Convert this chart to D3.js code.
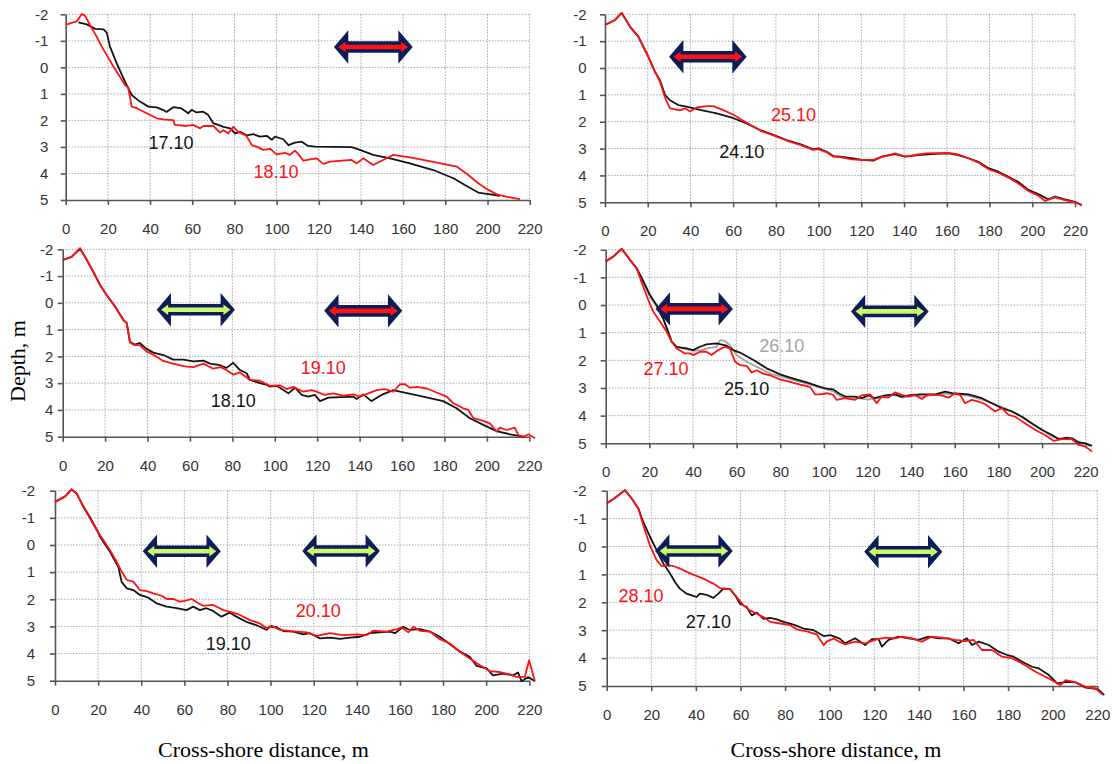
<!DOCTYPE html>
<html>
<head>
<meta charset="utf-8">
<script src="https://cdn.jsdelivr.net/npm/d3@7"></script>
<style>
  html, body { margin: 0; padding: 0; background: #ffffff; }
  svg { display: block; }
  .tick text { font-family: "Liberation Sans", Arial, sans-serif; font-size: 15px; fill: #333; }
</style>
</head>
<body>
<svg id="chart" width="1115" height="764"></svg>
<script>
// Cross-shore beach profiles: depth (m) vs distance (m), pairs of survey dates per panel.
const xTicks = [0, 20, 40, 60, 80, 100, 120, 140, 160, 180, 200, 220];
const yTicks = [-2, -1, 0, 1, 2, 3, 4, 5];

// Panel 1: 17.10 and 18.10
const p1_1710 = [[6,-1.70],[10,-1.62],[14,-1.45],[18,-1.43],[19.5,-1.3],[21,-0.78],[24.2,-0.15],[28.1,0.54],[31.3,1.04],[35.2,1.29],[39.2,1.48],[43.1,1.51],[46.3,1.61],[47.8,1.68],[51,1.5],[54.9,1.55],[58.1,1.73],[59.7,1.6],[62,1.7],[65.2,1.67],[67.6,1.8],[70,2.11],[72.4,2.17],[74.8,2.24],[78,2.3],[80.3,2.49],[82.6,2.43],[85.8,2.56],[89,2.52],[92.1,2.61],[95.3,2.58],[97.7,2.73],[99.2,2.61],[103.2,2.71],[105.6,2.93],[108.7,2.84],[111.9,2.80],[115,2.96],[118.2,2.99],[135.6,3.01],[139.5,3.11],[145.8,3.30],[153.8,3.43],[163.2,3.62],[174.3,3.87],[183.8,4.18],[190.1,4.47],[195.6,4.72],[199.6,4.77],[205.9,4.84]];
const p1_1810 = [[0,-1.60],[2.8,-1.68],[5.2,-1.73],[7.6,-2.01],[9.2,-1.94],[11.5,-1.6],[14.7,-1.16],[17.1,-0.78],[19.4,-0.47],[22.6,-0.03],[25.7,0.35],[28.1,0.67],[29.6,0.75],[31.3,1.48],[33.7,1.54],[38.4,1.73],[43.1,1.92],[46.3,1.96],[51,1.99],[51.8,2.17],[57.3,2.21],[60.5,2.17],[63.7,2.30],[65.2,2.21],[70,2.21],[73.2,2.46],[74.8,2.37],[77.1,2.49],[79.5,2.24],[81.8,2.43],[85.8,2.59],[88.2,2.93],[90.5,2.99],[93.7,3.11],[96.9,3.07],[100,3.28],[104,3.22],[106.3,3.30],[108.7,3.14],[110.3,3.27],[112.7,3.52],[115.9,3.47],[119,3.43],[122.2,3.64],[125.3,3.55],[135.6,3.49],[138,3.62],[141.1,3.43],[145.8,3.68],[149.8,3.52],[155.3,3.30],[163.2,3.39],[174.3,3.56],[185.4,3.74],[190.9,4.06],[195.6,4.37],[200.4,4.62],[205.1,4.81],[210.7,4.90],[215.4,4.97]];

// Panel 2: 24.10 and 25.10
const p2_2410 = [[0,-1.60],[4.7,-1.79],[7.8,-2.05],[11.7,-1.54],[15.6,-1.17],[19.5,-0.55],[23.4,0.14],[25.7,0.45],[28.1,1.0],[30.4,1.2],[34.3,1.38],[38.2,1.44],[44.5,1.56],[52.3,1.69],[60.1,1.87],[66.3,2.06],[72.6,2.31],[78.8,2.49],[85,2.68],[91.3,2.83],[97.5,3.03],[99.9,2.99],[103.8,3.12],[106.9,3.28],[110,3.30],[115.5,3.36],[120.2,3.42],[125.6,3.45],[129.5,3.30],[135.8,3.21],[140.5,3.30],[146.7,3.24],[154.5,3.20],[160.7,3.18],[165.4,3.24],[170.1,3.36],[174.8,3.49],[179.5,3.73],[184.2,3.86],[188.8,4.05],[193.5,4.24],[198.2,4.54],[202.8,4.69],[207.5,4.89],[210.6,4.79],[215.3,4.89],[220,4.98],[223.2,5.10]];
const p2_2510 = [[0,-1.60],[4.7,-1.79],[7.8,-2.05],[11.7,-1.54],[15.6,-1.17],[19.5,-0.55],[23.4,0.14],[25.7,0.5],[28.1,1.1],[30.4,1.50],[35.1,1.58],[37.5,1.5],[39.8,1.62],[42.9,1.47],[47.6,1.42],[50.7,1.42],[55.4,1.57],[60.1,1.74],[66.3,2.04],[72.6,2.33],[78.8,2.51],[85,2.70],[91.3,2.86],[97.5,3.05],[100,3.02],[103.8,3.14],[106.9,3.30],[110,3.32],[115.5,3.40],[120.2,3.42],[125.6,3.42],[129.5,3.32],[135.8,3.18],[140.5,3.30],[146.7,3.22],[150.5,3.18],[154.5,3.17],[160.7,3.16],[165.4,3.22],[170.1,3.36],[174.8,3.52],[179.5,3.77],[184.2,3.90],[188.8,4.08],[193.5,4.30],[198.2,4.58],[202.8,4.75],[206,4.95],[210.6,4.82],[215.3,4.92],[220,5.0],[223.2,5.12]];

// Panel 3: 18.10 and 19.10
const p3_1810 = [[0,-1.60],[4.2,-1.72],[8.2,-2.02],[11.4,-1.6],[14.4,-1.16],[17.6,-0.67],[20.7,-0.29],[24.7,0.14],[28.6,0.64],[30.2,0.76],[31.7,1.45],[33.9,1.56],[36.3,1.50],[39.6,1.72],[42.7,1.86],[47.5,1.95],[52.1,2.12],[56.9,2.12],[61.6,2.19],[66.3,2.16],[69.5,2.27],[74.2,2.33],[77.3,2.43],[80.4,2.24],[83.6,2.51],[86.7,2.63],[88.3,2.88],[93,3.00],[96.2,3.06],[97.7,3.13],[100.9,3.10],[104,3.26],[106.4,3.38],[109.5,3.17],[112.7,3.44],[115.8,3.50],[119,3.44],[121.3,3.67],[125.3,3.54],[137,3.50],[138.6,3.59],[141.7,3.42],[145.6,3.67],[150.3,3.44],[155.9,3.26],[159,3.32],[170,3.50],[179.4,3.67],[185.7,3.94],[192,4.31],[198.3,4.56],[204.6,4.79],[210.9,4.91],[217.2,5.0]];
const p3_1910 = [[0,-1.60],[4.2,-1.72],[8.2,-2.04],[11.4,-1.6],[14.4,-1.16],[17.6,-0.67],[20.7,-0.29],[24.7,0.14],[28.6,0.64],[30.2,0.76],[31.7,1.48],[33.9,1.58],[36.3,1.58],[39.6,1.82],[43,1.95],[47.4,2.17],[52.1,2.27],[56.9,2.36],[61.6,2.40],[66.3,2.27],[71,2.46],[74.5,2.40],[77.3,2.52],[80.4,2.68],[83.6,2.60],[88.3,2.88],[93,2.91],[97.7,3.10],[102.4,3.08],[105.6,3.22],[108.7,3.14],[113.4,3.32],[117.3,3.26],[119.7,3.32],[123.6,3.44],[127.6,3.38],[132.3,3.47],[137,3.42],[140.2,3.50],[144.1,3.38],[148,3.26],[151.9,3.22],[155.9,3.32],[159,3.04],[161.4,3.04],[163.7,3.17],[166.9,3.14],[171.6,3.20],[176.3,3.35],[181,3.50],[184.2,3.75],[188.9,3.94],[191.3,4.00],[193.6,4.31],[198.3,4.41],[201.4,4.50],[204.6,4.81],[206.1,4.66],[209.3,4.75],[213.2,4.66],[214.8,4.94],[217.2,5.0],[219.6,4.91],[222.7,5.06]];

// Panel 4: 25.10, 26.10 and 27.10
const p4_2510 = [[0,-1.57],[3.5,-1.75],[7.3,-2.03],[11.2,-1.63],[14.2,-1.33],[17.3,-0.85],[20.3,-0.36],[23.3,0.0],[26.3,0.48],[28.6,0.96],[30.2,1.32],[32.5,1.51],[37.1,1.57],[40.1,1.63],[43.2,1.51],[46.2,1.42],[50.8,1.39],[55.4,1.47],[58.5,1.63],[61.5,1.72],[67.7,1.99],[73.8,2.29],[79.9,2.51],[86,2.66],[92.1,2.80],[98.2,2.96],[101.3,3.02],[104.3,3.05],[107,3.20],[109.7,3.31],[114.3,3.31],[117.3,3.37],[120.4,3.27],[123.4,3.37],[128,3.27],[132.6,3.23],[135.7,3.31],[140.3,3.25],[144.9,3.23],[151,3.23],[155.6,3.13],[158.7,3.19],[166.3,3.23],[172.4,3.37],[177,3.55],[181.6,3.73],[186.2,3.85],[190.8,4.04],[195.4,4.28],[200,4.52],[204.6,4.70],[207.7,4.85],[210.7,4.80],[213.8,4.82],[216.8,4.97],[219.9,5.0],[222.9,5.09]];
const p4_2610 = [[0,-1.57],[3.5,-1.75],[7.3,-2.03],[11.2,-1.63],[14.2,-1.30],[17.3,-0.80],[20.3,-0.30],[23.3,0.05],[26.3,0.50],[28.6,0.98],[30.2,1.30],[32.5,1.52],[37.1,1.60],[40.1,1.66],[44,1.63],[47.5,1.55],[50.8,1.51],[52.4,1.27],[54.6,1.30],[56.9,1.45],[60,1.81],[64.6,2.05],[70.7,2.29],[76,2.50],[82,2.62],[88,2.75],[94,2.88],[100,3.02],[104.3,3.12],[108,3.32],[112,3.40],[116,3.37],[120,3.42],[124,3.35],[128,3.33],[132,3.25],[136,3.35],[140,3.28],[145,3.30],[150,3.26],[155,3.20],[160,3.22],[166,3.28],[172,3.40],[177,3.55],[182,3.70],[187,3.88],[191,4.06],[196,4.32],[200,4.50],[205,4.78],[209,4.84],[214,4.86],[218,4.99],[222,5.1]];
const p4_2710 = [[0,-1.57],[3.5,-1.75],[7.3,-2.03],[11.2,-1.63],[14.2,-1.33],[16.5,-0.81],[19.5,-0.19],[21.8,0.24],[24.9,0.60],[27.9,0.96],[30.2,1.32],[32.5,1.57],[36.3,1.75],[38.6,1.75],[40.1,1.81],[43.2,1.69],[46.2,1.69],[48.5,1.81],[51.6,1.63],[54.6,1.51],[56.9,1.57],[59.3,2.05],[61.5,2.17],[64.6,2.20],[66.9,2.44],[69.2,2.36],[72.2,2.48],[75.3,2.54],[79.9,2.69],[84.5,2.78],[89.1,2.88],[93.7,2.96],[95.9,3.23],[98.2,3.23],[101.3,3.19],[104.3,3.25],[105.8,3.43],[109.7,3.37],[114.3,3.43],[117.3,3.27],[121.2,3.23],[124.2,3.55],[126.5,3.31],[129.6,3.35],[132.6,3.16],[135.7,3.25],[138.7,3.31],[141.8,3.25],[144.9,3.40],[147.9,3.23],[151,3.25],[154,3.27],[157.1,3.35],[160.1,3.19],[162.4,3.25],[164.7,3.55],[167.8,3.43],[170.8,3.49],[173.9,3.58],[178.5,3.85],[181.6,3.73],[184.6,3.97],[187.7,4.04],[192.3,4.28],[196.9,4.52],[201.4,4.70],[205.2,4.91],[209.1,4.85],[213.7,4.85],[216.8,5.06],[219.9,5.12],[222.9,5.30]];

// Panel 5: 19.10 and 20.10
const p5_1910 = [[0,-1.59],[4.6,-1.78],[7.7,-2.04],[10,-1.90],[13.1,-1.43],[16.2,-1.02],[19.3,-0.58],[20.9,-0.30],[25.5,0.25],[29.4,0.81],[30.9,1.36],[33.3,1.60],[36.3,1.66],[39.4,1.84],[43.3,1.94],[47.1,2.15],[51.8,2.27],[56.4,2.33],[61,2.40],[64.1,2.27],[67.2,2.40],[70.2,2.33],[73.3,2.43],[77.2,2.64],[81,2.49],[84.1,2.64],[88.7,2.83],[93.3,2.95],[98.2,3.13],[99.7,3.01],[102.8,3.03],[105.9,3.17],[110.5,3.19],[115.2,3.29],[118.3,3.25],[122.9,3.44],[127.5,3.41],[132.2,3.46],[136.8,3.41],[141.5,3.38],[146.1,3.25],[150.7,3.22],[155.4,3.19],[157.7,3.25],[161.5,3.01],[164.6,3.13],[169.3,3.10],[173.9,3.19],[178.5,3.38],[183.2,3.66],[187.8,3.93],[192.4,4.12],[195.5,4.45],[200.2,4.55],[203.2,4.80],[207.9,4.74],[212.5,4.80],[214.8,4.70],[216.4,5.02],[219.5,4.86],[222.6,5.02]];
const p5_2010 = [[0,-1.59],[4.6,-1.78],[7.7,-2.06],[10,-1.90],[13.1,-1.41],[16.2,-0.98],[19.3,-0.55],[22.4,-0.18],[25.5,0.19],[28.6,0.62],[30.9,0.98],[33.3,1.29],[36.3,1.35],[39.4,1.66],[42.5,1.70],[45.6,1.78],[49.5,1.87],[51.8,1.99],[54.9,1.99],[58,2.09],[60.3,2.06],[63.4,1.99],[66.5,2.15],[68.8,2.24],[73.4,2.21],[78.1,2.40],[82.7,2.49],[85.8,2.58],[90.4,2.77],[95,2.89],[98.2,3.07],[100.5,2.97],[104.3,3.13],[112,3.19],[116.7,3.22],[121.4,3.35],[127.5,3.25],[133.7,3.32],[139.9,3.29],[144.6,3.32],[147.6,3.16],[153.8,3.19],[158.5,3.10],[160.8,3.04],[163.9,3.22],[166.2,3.01],[169.3,3.16],[173.9,3.19],[178.5,3.47],[183.2,3.63],[187.8,3.93],[192.4,4.18],[197.1,4.43],[201.7,4.65],[206.3,4.68],[211,4.77],[214,4.86],[217.9,4.86],[219.9,4.25],[222.6,5.02]];

// Panel 6: 27.10 and 28.10
const p6_2710 = [[0,-1.55],[3.4,-1.72],[8.2,-2.02],[11.2,-1.72],[14.2,-1.36],[16.4,-0.88],[19.4,-0.35],[22.4,0.13],[25.4,0.61],[28.4,0.97],[30.6,1.27],[32.8,1.51],[35.8,1.69],[38.8,1.77],[40.4,1.81],[41.8,1.69],[44.8,1.73],[47.8,1.84],[50.1,1.69],[52.3,1.51],[55.3,1.53],[57.6,1.75],[59.8,2.05],[62.8,2.17],[65,2.47],[67.3,2.37],[70.3,2.59],[73.3,2.56],[76.3,2.61],[79.3,2.70],[83.8,2.80],[88.3,2.94],[92.8,3.00],[97.3,3.21],[100.3,3.18],[104.5,3.30],[106.9,3.47],[111.4,3.29],[115.9,3.53],[118.9,3.32],[121.9,3.32],[123.4,3.59],[126.4,3.35],[130.9,3.23],[135.4,3.29],[139.8,3.35],[144.3,3.23],[148.8,3.29],[153.3,3.29],[157.8,3.47],[161.5,3.29],[163.8,3.53],[166.8,3.41],[171.3,3.53],[175.8,3.77],[179.6,3.89],[182.5,3.95],[186.3,4.13],[190.8,4.31],[193.8,4.37],[198.3,4.61],[202,4.91],[205.8,4.85],[210.3,4.87],[214.8,5.06],[218.5,5.09],[220.8,5.15],[223.1,5.33]];
const p6_2810 = [[0,-1.55],[3.4,-1.72],[8.2,-2.02],[11.2,-1.72],[14.2,-1.36],[16.4,-0.76],[19.4,-0.04],[22.4,0.49],[24.6,0.70],[26.9,0.67],[29.9,0.70],[32.9,0.79],[35.9,0.91],[38.8,1.01],[43.3,1.15],[47.8,1.33],[50.8,1.49],[55.3,1.53],[58.3,1.81],[61.3,2.11],[64.3,2.29],[67.3,2.41],[70.3,2.53],[73.3,2.70],[77.8,2.76],[82.3,2.82],[85.3,2.97],[89.8,3.04],[94.3,3.16],[97.3,3.54],[98.8,3.40],[101.8,3.30],[104.5,3.42],[106.9,3.51],[111.4,3.41],[115.9,3.47],[120.4,3.35],[124.9,3.27],[129.4,3.29],[132.4,3.23],[136.9,3.29],[141.3,3.41],[145.8,3.23],[150.3,3.27],[156.3,3.35],[160.8,3.39],[164.6,3.35],[168.3,3.71],[172.8,3.71],[177.3,3.95],[181.8,4.01],[186.3,4.19],[192.3,4.49],[198.3,4.73],[203.5,4.97],[205.8,4.79],[210.3,4.87],[214.8,5.03],[219.3,5.09],[222.3,5.31]];

// Date labels: [text, x (m), depth (m), colour key]
const p1Labels = [["17.10", 49.9, 2.85, "black"], ["18.10", 99.7, 3.91, "red"]];
const p2Labels = [["25.10", 88.2, 1.75, "red"], ["24.10", 64.0, 3.12, "black"]];
const p3Labels = [["18.10", 80.4, 3.63, "black"], ["19.10", 122.9, 2.42, "red"]];
const p4Labels = [["26.10", 80.7, 1.45, "gray"], ["27.10", 27.6, 2.31, "red"], ["25.10", 64.6, 3.01, "black"]];
const p5Labels = [["19.10", 80.4, 3.62, "black"], ["20.10", 122.1, 2.40, "red"]];
const p6Labels = [["28.10", 15.4, 1.76, "red"], ["27.10", 45.6, 2.70, "black"]];

// Zone arrows: [from x (m), to x (m), depth (m), fill key]
const p1Arrows = [[127.2, 164.5, -0.77, "red"]];
const p2Arrows = [[30.0, 66.3, -0.42, "red"]];
const p3Arrows = [[44.3, 81.2, 0.26, "green"], [123.3, 160.1, 0.30, "red"]];
const p4Arrows = [[22.9, 58.3, 0.14, "red"], [112.4, 148.0, 0.23, "green"]];
const p5Arrows = [[40.7, 76.9, 0.23, "green"], [114.7, 150.7, 0.22, "green"]];
const p6Arrows = [[21.7, 56.5, 0.16, "green"], [115.5, 150.5, 0.19, "green"]];

const colors = { black: "#141414", red: "#ff1212", gray: "#a3a3a3", green: "#ccf86a", navy: "#0c1d5a" };

// Panel frames (pixel box of the plotting area) and per-panel tick label gap
const layout = [
  { left: 65.7, right: 529.7, top: 14.3, bottom: 200.0, yGap: 12.4,
    series: [[p1_1710, "black"], [p1_1810, "red"]], labels: p1Labels, arrows: p1Arrows },
  { left: 605.0, right: 1075.0, top: 14.3, bottom: 202.3, yGap: 13.3,
    series: [[p2_2410, "black"], [p2_2510, "red"]], labels: p2Labels, arrows: p2Arrows },
  { left: 62.7, right: 529.3, top: 249.3, bottom: 436.7, yGap: 4.4,
    series: [[p3_1810, "black"], [p3_1910, "red"]], labels: p3Labels, arrows: p3Arrows },
  { left: 605.7, right: 1085.7, top: 249.7, bottom: 443.3, yGap: 14,
    series: [[p4_2610, "gray"], [p4_2510, "black"], [p4_2710, "red"]], labels: p4Labels, arrows: p4Arrows },
  { left: 55.0, right: 529.3, top: 490.7, bottom: 680.7, yGap: 15,
    series: [[p5_1910, "black"], [p5_2010, "red"]], labels: p5Labels, arrows: p5Arrows },
  { left: 606.7, right: 1097.3, top: 490.7, bottom: 686.0, yGap: 15,
    series: [[p6_2710, "black"], [p6_2810, "red"]], labels: p6Labels, arrows: p6Arrows }
];

const svg = d3.select("#chart");

// Double-headed block arrow with a thin inner arrow
function blockArrow(g, x1, x2, cy, fill) {
  const h = 14.3, H = 16.7, s = 5.8;
  const outer = [[x1, cy], [x1 + h, cy - H], [x1 + h, cy - s], [x2 - h, cy - s], [x2 - h, cy - H],
    [x2, cy], [x2 - h, cy + H], [x2 - h, cy + s], [x1 + h, cy + s], [x1 + h, cy + H]];
  const a = x1 + 4.5, b = x2 - 4.5, ih = 7, iH = 5.2, is = 2.3;
  const inner = [[a, cy], [a + ih, cy - iH], [a + ih, cy - is], [b - ih, cy - is], [b - ih, cy - iH],
    [b, cy], [b - ih, cy + iH], [b - ih, cy + is], [a + ih, cy + is], [a + ih, cy + iH]];
  g.append("polygon").attr("points", outer.map(p => p.join(",")).join(" ")).attr("fill", colors.navy);
  g.append("polygon").attr("points", inner.map(p => p.join(",")).join(" ")).attr("fill", colors[fill]);
}

layout.forEach(p => {
  const x = d3.scaleLinear().domain([0, 220]).range([p.left, p.right]);
  const y = d3.scaleLinear().domain([-2, 5]).range([p.top, p.bottom]);
  const g = svg.append("g");

  // dotted grid
  const grid = g.append("g").attr("stroke", "#a8a8a8").attr("stroke-width", 1).attr("stroke-dasharray", "1.5,1.5");
  grid.selectAll("line.v").data(xTicks.filter(t => t > 0)).join("line")
    .attr("x1", d => x(d)).attr("x2", d => x(d)).attr("y1", y(-2)).attr("y2", y(5));
  grid.selectAll("line.h").data(yTicks.filter(t => t < 5)).join("line")
    .attr("x1", x(0)).attr("x2", x(220)).attr("y1", d => y(d)).attr("y2", d => y(d));

  // axes
  const ax = g.append("g").attr("transform", `translate(0,${y(5)})`)
    .call(d3.axisBottom(x).tickValues(xTicks).tickFormat(d => String(d)).tickSize(5).tickSizeOuter(0).tickPadding(18.5));
  const ay = g.append("g").attr("transform", `translate(${x(0)},0)`)
    .call(d3.axisLeft(y).tickValues(yTicks).tickFormat(d => String(d)).tickSize(5).tickSizeOuter(0).tickPadding(p.yGap));
  [ax, ay].forEach(a => {
    a.select(".domain").attr("stroke", "#555").attr("stroke-width", 1.6);
    a.selectAll(".tick line").attr("stroke", "#555").attr("stroke-width", 1.6);
  });

  // profiles
  const line = d3.line().x(d => x(d[0])).y(d => y(d[1]));
  p.series.forEach(([data, c]) => {
    g.append("path").datum(data).attr("d", line)
      .attr("fill", "none").attr("stroke", colors[c]).attr("stroke-width", 1.8)
      .attr("stroke-linejoin", "round");
  });

  // zone arrows
  p.arrows.forEach(([a, b, d, c]) => blockArrow(g, x(a), x(b), y(d), c));

  // date labels
  g.selectAll("text.date").data(p.labels).join("text")
    .attr("x", d => x(d[1])).attr("y", d => y(d[2])).attr("dy", "0.36em")
    .attr("text-anchor", "middle")
    .style("font-family", "'Liberation Sans', Arial, sans-serif").style("font-size", "18px")
    .attr("fill", d => colors[d[3]]).text(d => d[0]);
});

// axis titles
const serif = "'Liberation Serif', 'Times New Roman', serif";
svg.append("text").attr("transform", "translate(25,361) rotate(-90)").attr("text-anchor", "middle")
  .style("font-family", serif).style("font-size", "22px").attr("fill", "#000").text("Depth, m");
svg.append("text").attr("x", 263.5).attr("y", 757).attr("text-anchor", "middle")
  .style("font-family", serif).style("font-size", "22px").attr("fill", "#000").text("Cross-shore distance, m");
svg.append("text").attr("x", 836).attr("y", 757).attr("text-anchor", "middle")
  .style("font-family", serif).style("font-size", "22px").attr("fill", "#000").text("Cross-shore distance, m");
</script>
</body>
</html>
